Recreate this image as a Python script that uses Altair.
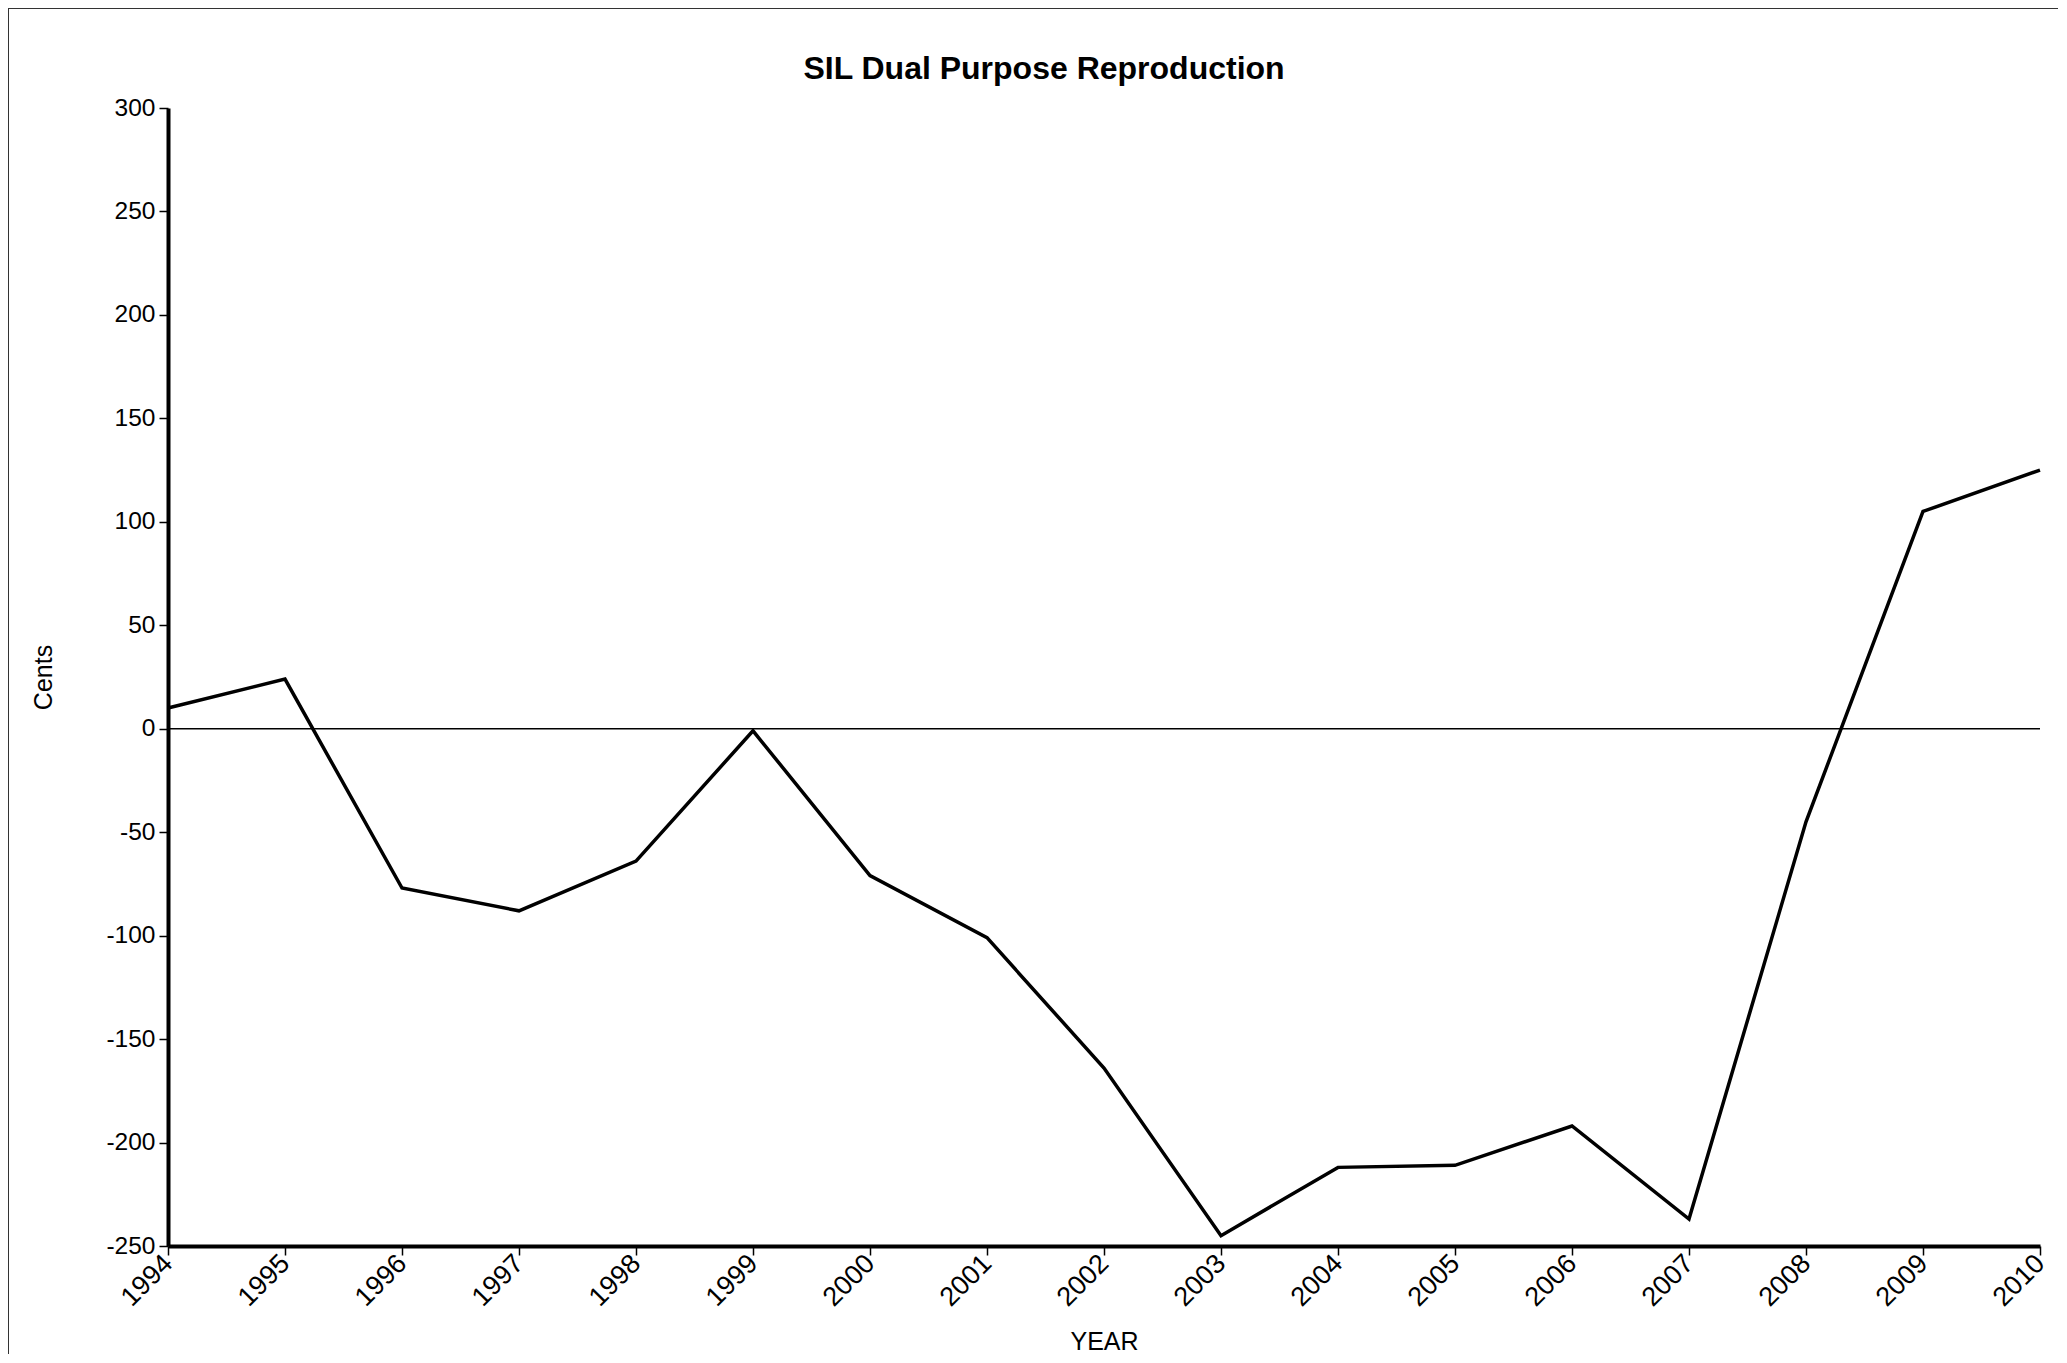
import altair as alt
import pandas as pd

# ---- data ----
years = [1994, 1995, 1996, 1997, 1998, 1999, 2000, 2001, 2002,
         2003, 2004, 2005, 2006, 2007, 2008, 2009, 2010]
cents = [10, 24, -77, -88, -64, -1, -71, -101, -164,
         -245, -212, -211, -192, -237, -45, 105, 125]
y_ticks = [-250, -200, -150, -100, -50, 0, 50, 100, 150, 200, 250, 300]
zero_line = [0]
chart_title = "SIL Dual Purpose Reproduction"
x_title = "YEAR"
y_title = "Cents"

W, H = 1872, 1138
FONT = "Liberation Sans"

df = pd.DataFrame({"YEAR": years, "Cents": cents})

x_scale = alt.Scale(domain=[years[0], years[-1]], nice=False, zero=False)
y_scale = alt.Scale(domain=[y_ticks[0], y_ticks[-1]], nice=False, zero=False)

x_axis = alt.Axis(values=years, labelExpr="'' + datum.value", labelAngle=-45,
                  labelAlign="right", labelBaseline="middle", labelPadding=4,
                  labelFontSize=27, title=x_title,
                  titleX=W / 2, titleY=103, titleBaseline="alphabetic",
                  titleAlign="center")
y_axis = alt.Axis(values=y_ticks, labelExpr="'' + datum.value", title=y_title,
                  labelPadding=4, titleX=-125, titleY=H / 2, titleAngle=-90,
                  titleBaseline="middle", titleAlign="center")

# outer frame of the figure (only its left and top edges are inside the window)
frame_left = alt.Chart(pd.DataFrame({"f": [0]})).mark_rule(
    color="#333333", strokeWidth=2
).encode(x=alt.value(-160), y=alt.value(-100), y2=alt.value(H + 400))
frame_top = alt.Chart(pd.DataFrame({"f": [0]})).mark_rule(
    color="#333333", strokeWidth=2
).encode(x=alt.value(-160), x2=alt.value(W + 200), y=alt.value(-100))

title = alt.Chart(pd.DataFrame({"t": [chart_title]})).mark_text(
    font=FONT, fontSize=32, fontWeight="bold", color="black",
    align="center", baseline="alphabetic"
).encode(text="t:N", x=alt.value(W / 2 - 60), y=alt.value(-29))

zero = alt.Chart(pd.DataFrame({"zero": zero_line})).mark_rule(
    color="black", strokeWidth=1.5
).encode(y=alt.Y("zero:Q", scale=y_scale, axis=y_axis))

line = alt.Chart(df).mark_line(color="black", strokeWidth=3.5).encode(
    x=alt.X("YEAR:Q", scale=x_scale, axis=x_axis),
    y=alt.Y("Cents:Q", scale=y_scale, axis=y_axis),
)

chart = alt.layer(frame_left, frame_top, title, zero, line).properties(
    width=W, height=H,
    autosize=alt.AutoSizeParams(type="none"),
    padding={"left": 160, "top": 100, "right": 18, "bottom": 108},
).configure_view(strokeWidth=0).configure_axis(
    grid=False, domainColor="black", domainWidth=4, tickColor="black",
    tickWidth=1.5, tickSize=9, labelFont=FONT, labelFontSize=24.5,
    labelColor="black", titleFont=FONT, titleFontSize=25,
    titleFontWeight="normal", titleColor="black"
)

chart.save("out.html", embed_options={"renderer": "svg", "actions": False})
